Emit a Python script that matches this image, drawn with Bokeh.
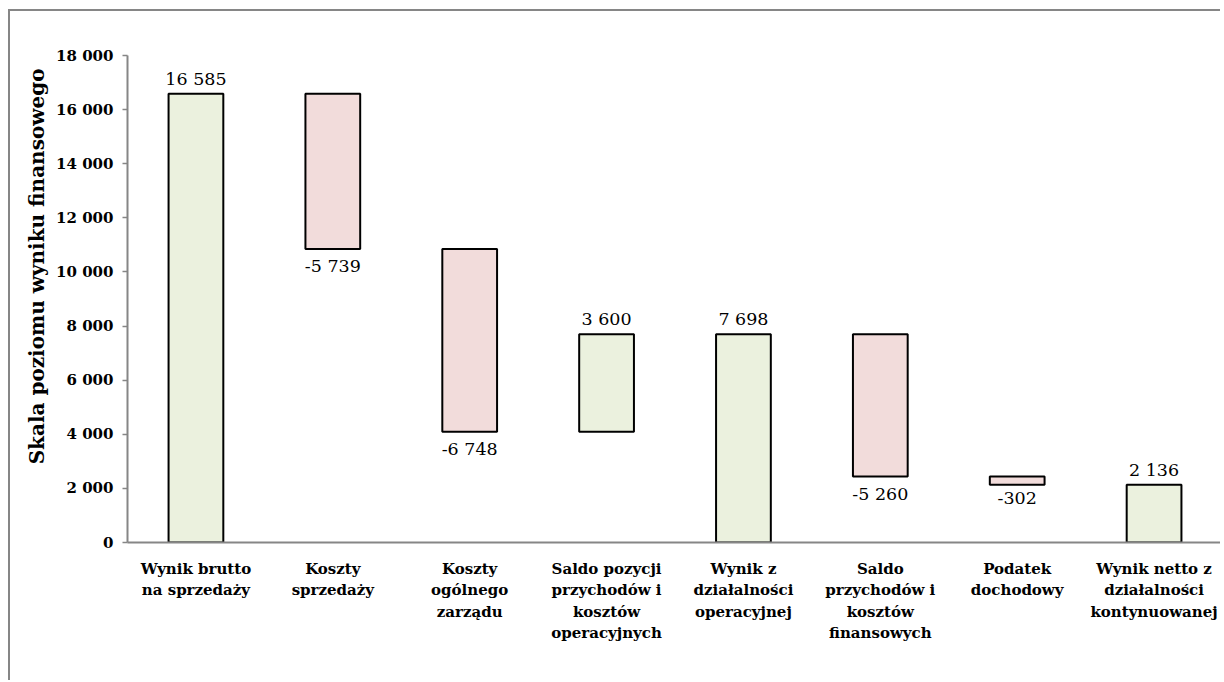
import numpy as np
from bokeh.plotting import figure
from bokeh.models import ColumnDataSource, FactorRange, FixedTicker, Range1d, Title
from bokeh.core.properties import value
from bokeh.embed import file_html
from bokeh.resources import INLINE

categories = [
    "Wynik brutto\nna sprzedaży",
    "Koszty\nsprzedaży",
    "Koszty\nogólnego\nzarządu",
    "Saldo pozycji\nprzychodów i\nkosztów\noperacyjnych",
    "Wynik z\ndziałalności\noperacyjnej",
    "Saldo\nprzychodów i\nkosztów\nfinansowych",
    "Podatek\ndochodowy",
    "Wynik netto z\ndziałalności\nkontynuowanej",
]
values = [16585, -5739, -6748, 3600, 7698, -5260, -302, 2136]
is_total = [True, False, False, False, True, False, False, True]
y_ticks = [0, 2000, 4000, 6000, 8000, 10000, 12000, 14000, 16000, 18000]
y_tick_labels = ["0", "2 000", "4 000", "6 000", "8 000", "10 000", "12 000",
                 "14 000", "16 000", "18 000"]
y_title = "Skala poziomu wyniku finansowego"

GREEN = "#EBF1DE"
PINK = "#F2DCDB"
FONT = "DejaVu Serif"

# waterfall geometry from data
bottoms, tops, colors, labels = [], [], [], []
running = 0
for v, tot in zip(values, is_total):
    if tot:
        b, t = 0, v
        running = v
    else:
        b, t = running, running + v
        running = running + v
    bottoms.append(min(b, t))
    tops.append(max(b, t))
    colors.append(GREEN if v >= 0 else PINK)
    s = f"{abs(v):,}".replace(",", " ")
    labels.append(("-" if v < 0 else "") + s)

pos_idx = [i for i, v in enumerate(values) if v >= 0]
neg_idx = [i for i, v in enumerate(values) if v < 0]

src = ColumnDataSource(dict(cat=categories, bottom=bottoms, top=tops, color=colors))
src_pos = ColumnDataSource(dict(cat=[categories[i] for i in pos_idx],
                                y=[tops[i] for i in pos_idx],
                                t=[labels[i] for i in pos_idx]))
src_neg = ColumnDataSource(dict(cat=[categories[i] for i in neg_idx],
                                y=[bottoms[i] for i in neg_idx],
                                t=[labels[i] for i in neg_idx]))

p = figure(
    x_range=FactorRange(factors=categories, range_padding=0),
    y_range=Range1d(0, 18000),
    width=1212, height=671,
    output_backend="svg", toolbar_location=None,
    min_border_left=117, min_border_right=0, min_border_top=44, min_border_bottom=140,
)
p.styles = {"margin-left": "8px", "margin-top": "9px",
            "border-top": "2px solid #868686", "border-left": "2px solid #868686"}
p.outline_line_color = None
p.xgrid.grid_line_color = None
p.ygrid.grid_line_color = None

p.vbar(x="cat", bottom="bottom", top="top", width=0.4, source=src,
       fill_color="color", line_color="black", line_width=2)

p.text(x="cat", y="y", text="t", source=src_pos, text_align="center",
       text_baseline="bottom", y_offset=-5, text_font=value(FONT),
       text_font_size="17.5px", text_color="black")
p.text(x="cat", y="y", text="t", source=src_neg, text_align="center",
       text_baseline="top", y_offset=7, text_font=value(FONT),
       text_font_size="17.5px", text_color="black")

# y axis
ya = p.yaxis[0]
ya.ticker = FixedTicker(ticks=y_ticks)
ya.major_label_overrides = {t: l for t, l in zip(y_ticks, y_tick_labels)}
ya.axis_line_color = "#868686"
ya.axis_line_width = 2
ya.major_tick_line_color = "#868686"
ya.major_tick_line_width = 1.5
ya.major_tick_out = 5
ya.major_tick_in = 0
ya.minor_tick_line_color = None
ya.major_label_text_font = FONT
ya.major_label_text_font_style = "bold"
ya.major_label_text_font_size = "15px"
ya.major_label_text_color = "black"
ya.major_label_standoff = 9

ytitle = Title(text=y_title, align="right", offset=13, standoff=9,
               text_font=FONT, text_font_style="bold", text_font_size="20px",
               text_color="black")
p.add_layout(ytitle, "left")

# x axis
xa = p.xaxis[0]
xa.axis_line_color = "#868686"
xa.axis_line_width = 2
xa.major_tick_line_color = None
xa.minor_tick_line_color = None
xa.major_label_text_font = FONT
xa.major_label_text_font_style = "bold"
xa.major_label_text_font_size = "15px"
xa.major_label_text_color = "black"
xa.major_label_text_line_height = 1.2
xa.major_label_standoff = 11
xa.major_label_orientation = "horizontal"

open("out.html", "w").write(file_html(p, INLINE))
